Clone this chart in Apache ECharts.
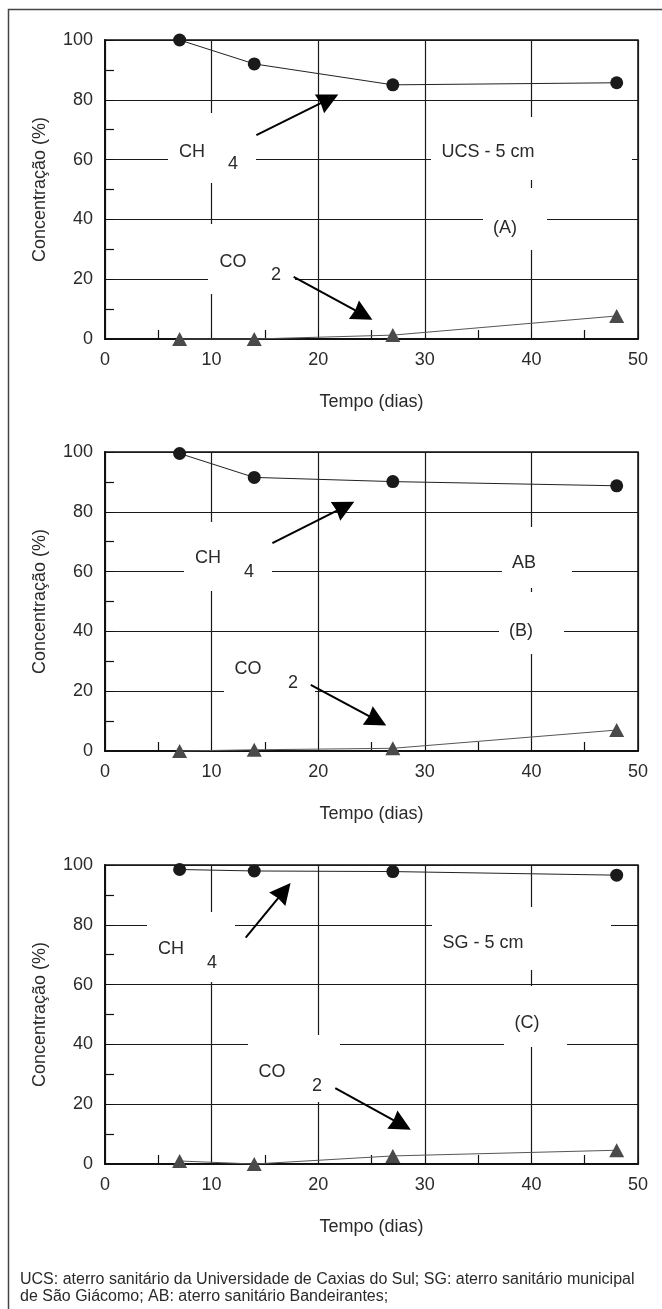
<!DOCTYPE html>
<html lang="pt">
<head>
<meta charset="UTF-8">
<title>Concentração de CH4 e CO2</title>
<script src="https://cdn.jsdelivr.net/npm/echarts@6/dist/echarts.min.js"></script>
<style>
    html, body { margin: 0; padding: 0; background: #fff; }
    #main { width: 662px; height: 1309px; }
</style>
</head>
<body>
<div id="main"></div>
<script>
    // dados: dias e concentração (%)
    var dias = [7, 14, 27, 48];
    var ch4A = [100, 92, 85, 85.7];
    var co2A = [0, 0, 1.3, 7.7];
    var ch4B = [99.5, 91.5, 90.1, 88.7];
    var co2B = [0, 0.4, 0.9, 7];
    var ch4C = [98.5, 98, 97.8, 96.6];
    var co2C = [1, 0, 2.7, 4.6];

    var fonte = "'Liberation Sans', Arial, sans-serif";
    var corTexto = '#2a2a2a';
    var ponta = 'path://M10,0L19,24L10,22.5L1,24Z'; // cabeça da seta
    var tamPonta = 21;

    // cada painel: posição, séries, setas (em coordenadas de dados), rótulos e caixas brancas
    var paineis = [
        {
            top: 40, ch4: ch4A, co2: co2A,
            setaCH4: [[14.2, 68.2], [21.8, 81.6]],
            setaCO2: [[17.7, 20.8], [25.0, 6.6]],
            rotulos: [['CH', 192, 152], ['4', 233, 164], ['CO', 233, 262], ['2', 276, 275], ['UCS - 5 cm', 488, 152], ['(A)', 505, 228]],
            caixas: [[168, 113, 256, 183], [208, 224, 295, 294], [431, 117, 632, 180], [483, 188, 547, 250]]
        },
        {
            top: 452, ch4: ch4B, co2: co2B,
            setaCH4: [[15.7, 69.5], [23.3, 83.2]],
            setaCO2: [[19.3, 22.1], [26.3, 8.7]],
            rotulos: [['CH', 208, 558], ['4', 249, 572], ['CO', 248, 669], ['2', 293, 683], ['AB', 524, 563], ['(B)', 521, 631]],
            caixas: [[184, 522, 272, 591], [224, 642, 315, 700], [502, 527, 572, 588], [499, 592, 564, 654]]
        },
        {
            top: 865, ch4: ch4C, co2: co2C,
            setaCH4: [[13.2, 75.7], [17.35, 93.7]],
            setaCO2: [[21.6, 25.4], [28.6, 11.6]],
            rotulos: [['CH', 171, 949], ['4', 212, 963], ['CO', 272, 1072], ['2', 317, 1086], ['SG - 5 cm', 483, 943], ['(C)', 527, 1023]],
            caixas: [[147, 912, 235, 982], [248, 1035, 340, 1102], [432, 907, 611, 970], [504, 986, 567, 1047]]
        }
    ];

    var myChart = echarts.init(document.getElementById('main'));

    var grids = [], xAxes = [], yAxes = [], series = [];
    var graficos = [
        // moldura externa
        { type: 'rect', z: -1, shape: { x: 8.5, y: 9.5, width: 700, height: 1400 }, style: { fill: 'none', stroke: '#444', lineWidth: 1.5 } },
        { type: 'text', z: 5, left: 20, top: 1271, style: { text: 'UCS: aterro sanitário da Universidade de Caxias do Sul; SG: aterro sanitário municipal\nde São Giácomo; AB: aterro sanitário Bandeirantes;', font: '16px ' + fonte, fill: corTexto, lineHeight: 17 } }
    ];

    // a ponta fica centrada no fim da linha: recua o fim meia ponta (px -> dados: 10.66 px/dia, 2.99 px/%)
    function seta(p) {
        var dx = (p[1][0] - p[0][0]) * 10.66, dy = (p[1][1] - p[0][1]) * 2.99;
        var len = Math.sqrt(dx * dx + dy * dy), r = tamPonta / 2 - 1;
        var fim = [p[1][0] - dx / len * r / 10.66, p[1][1] - dy / len * r / 2.99];
        return [[{ coord: p[0], symbol: 'none' }, { coord: fim, symbol: ponta, symbolSize: tamPonta }]];
    }

    for (var i = 0; i < paineis.length; i++) {
        var p = paineis[i];
        grids.push({ left: 105, right: 24, top: p.top, height: 299, show: true, borderColor: '#111', borderWidth: 1.5 });
        xAxes.push({
            gridIndex: i, type: 'value', min: 0, max: 50, interval: 10,
            name: 'Tempo (dias)', nameLocation: 'middle', nameGap: 54,
            nameTextStyle: { fontSize: 18, color: corTexto, fontFamily: fonte },
            axisLine: { lineStyle: { color: '#111', width: 2 } },
            axisTick: { inside: true, length: 9, lineStyle: { color: '#111' } },
            minorTick: { show: true, splitNumber: 2, length: 9, lineStyle: { color: '#111', width: 1.2 } },
            axisLabel: { fontSize: 18, color: corTexto, fontFamily: fonte, margin: 12 },
            splitLine: { lineStyle: { color: '#1a1a1a', width: 1.2 } }
        });
        yAxes.push({
            gridIndex: i, type: 'value', min: 0, max: 100, interval: 20,
            name: 'Concentração (%)', nameLocation: 'middle', nameGap: 56,
            nameTextStyle: { fontSize: 18, color: corTexto, fontFamily: fonte },
            axisLine: { lineStyle: { color: '#111', width: 2 } },
            axisTick: { inside: true, length: 9, lineStyle: { color: '#111' } },
            minorTick: { show: true, splitNumber: 2, length: 9, lineStyle: { color: '#111', width: 1.2 } },
            axisLabel: { fontSize: 18, color: corTexto, fontFamily: fonte, margin: 12 },
            splitLine: { lineStyle: { color: '#1a1a1a', width: 1.2 } }
        });

        series.push({
            name: 'CH4', type: 'line', xAxisIndex: i, yAxisIndex: i, clip: false,
            data: dias.map(function (d, k) { return [d, this[k]]; }, p.ch4),
            symbol: 'circle', symbolSize: 13,
            itemStyle: { color: '#1a1a1a' },
            lineStyle: { color: '#222', width: 1 },
            markLine: {
                silent: true, animation: false,
                label: { show: false },
                lineStyle: { color: '#000', width: 2, type: 'solid' },
                data: seta(p.setaCH4)
            }
        });
        series.push({
            name: 'CO2', type: 'line', xAxisIndex: i, yAxisIndex: i, clip: false,
            data: dias.map(function (d, k) { return [d, this[k]]; }, p.co2),
            symbol: 'triangle', symbolSize: [15, 14],
            itemStyle: { color: '#4a4a4a' },
            lineStyle: { color: '#555', width: 1 },
            markLine: {
                silent: true, animation: false,
                label: { show: false },
                lineStyle: { color: '#000', width: 2, type: 'solid' },
                data: seta(p.setaCO2)
            }
        });

        // caixas brancas que cortam a grade atrás dos rótulos
        p.caixas.forEach(function (c) {
            graficos.push({ type: 'rect', z: 1, shape: { x: c[0], y: c[1], width: c[2] - c[0], height: c[3] - c[1] }, style: { fill: '#fff' } });
        });
        p.rotulos.forEach(function (r) {
            graficos.push({ type: 'text', z: 1, z2: 10, x: r[1], y: r[2], style: { text: r[0], font: '18px ' + fonte, fill: corTexto, align: 'center', verticalAlign: 'middle' } });
        });
    }

    var option = {
        animation: false,
        backgroundColor: '#fff',
        grid: grids,
        xAxis: xAxes,
        yAxis: yAxes,
        series: series,
        graphic: { elements: graficos }
    };
    myChart.setOption(option);
</script>
</body>
</html>
